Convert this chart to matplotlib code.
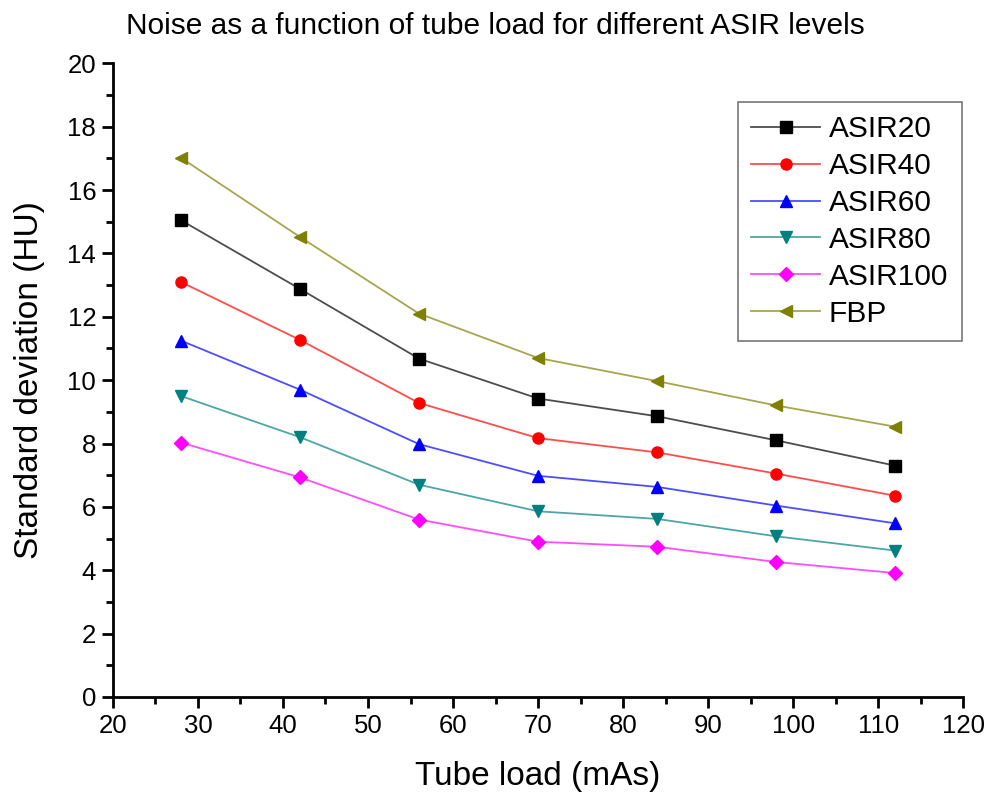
import matplotlib
matplotlib.use("Agg")
import matplotlib.pyplot as plt
from matplotlib.ticker import MultipleLocator
from matplotlib.colors import to_rgb

plt.rcParams['font.family'] = ['Liberation Sans', 'DejaVu Sans']

tube_load = [28, 42, 56, 70, 84, 98, 112]
asir20 = [15.05, 12.88, 10.68, 9.42, 8.86, 8.10, 7.30]
asir40 = [13.10, 11.27, 9.28, 8.17, 7.72, 7.05, 6.35]
asir60 = [11.25, 9.70, 7.98, 6.98, 6.63, 6.04, 5.48]
asir80 = [9.50, 8.20, 6.70, 5.86, 5.62, 5.07, 4.62]
asir100 = [8.03, 6.93, 5.60, 4.90, 4.74, 4.26, 3.91]
fbp = [17.02, 14.52, 12.10, 10.70, 9.97, 9.20, 8.53]

series = [
    ("ASIR20", asir20, "#000000", "s"),
    ("ASIR40", asir40, "#ff0000", "o"),
    ("ASIR60", asir60, "#0000ff", "^"),
    ("ASIR80", asir80, "#008080", "v"),
    ("ASIR100", asir100, "#ff00ff", "D"),
    ("FBP", fbp, "#808000", "<"),
]


def lighten(c, f=0.3):
    r, g, b = to_rgb(c)
    return (r + (1 - r) * f, g + (1 - g) * f, b + (1 - b) * f)


fig = plt.figure(figsize=(9.9, 8.02), dpi=100)
ax = fig.add_axes([0.114, 0.131, 0.859, 0.790])

for name, vals, col, mk in series:
    ax.plot(tube_load, vals, color=lighten(col, 0.3), lw=1.3,
            marker=mk, markersize=8 if mk != "D" else 7, markerfacecolor=col,
            markeredgecolor=col, label=name)

ax.set_xlim(20, 120)
ax.set_ylim(0, 20)
ax.xaxis.set_major_locator(MultipleLocator(10))
ax.xaxis.set_minor_locator(MultipleLocator(5))
ax.yaxis.set_major_locator(MultipleLocator(2))
ax.yaxis.set_minor_locator(MultipleLocator(1))
for s in ['top', 'right']:
    ax.spines[s].set_visible(False)
for s in ['left', 'bottom']:
    ax.spines[s].set_linewidth(2)
ax.tick_params(which='major', direction='out', length=8, width=2, labelsize=18.5, pad=4)
ax.tick_params(which='minor', direction='out', length=5, width=2)

ax.set_xlabel("Tube load (mAs)", fontsize=24, labelpad=17)
ax.set_ylabel("Standard deviation (HU)", fontsize=24, labelpad=16)
fig.text(0.5, 0.968, "Noise as a function of tube load for different ASIR levels",
         ha='center', va='center', fontsize=21.5)

leg = ax.legend(loc='upper right', bbox_to_anchor=(1.0, 0.942), fontsize=21.5,
                frameon=True, fancybox=False, edgecolor='#555555',
                handlelength=2.3, handletextpad=0.3, labelspacing=0.3,
                borderpad=0.45, borderaxespad=0.05)
leg.get_frame().set_linewidth(1.2)

fig.savefig("out.png", dpi=100)
